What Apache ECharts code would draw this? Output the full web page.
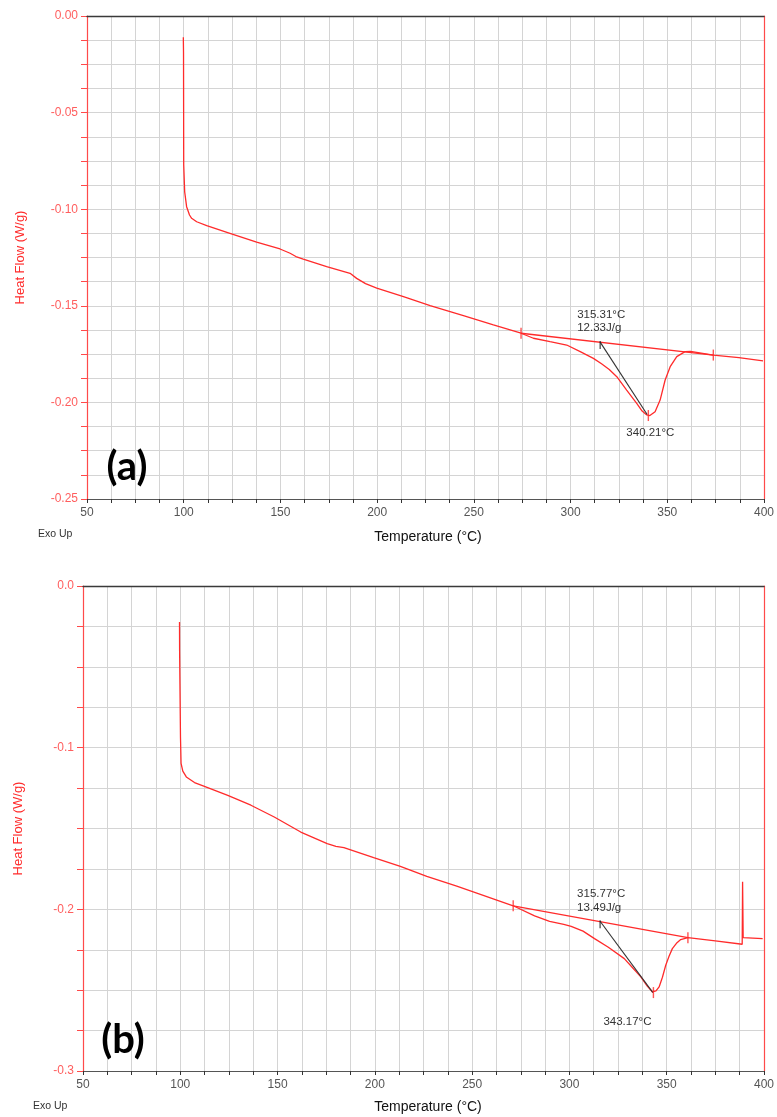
<!DOCTYPE html>
<html><head><meta charset="utf-8">
<script src="https://cdn.jsdelivr.net/npm/echarts@6/dist/echarts.min.js"></script>
<style>html,body{margin:0;padding:0;background:#fff}#c{width:777px;height:1117px}</style>
</head><body><div id="c"></div>
<script>
// ---------- Panel (a) ----------
const aTemp = [99.8, 99.9, 100.0, 100.4, 100.5, 101.5, 103.0, 104.1, 106.7, 111.9, 123.9, 137.7, 149.8, 155.0, 158.0, 161.8, 173.9, 186.0, 189.4, 194.0, 199.8, 213.6, 227.4, 244.6, 260.1, 274.4, 280.8, 289.4, 298.0, 305.0, 311.8, 316.0, 320.0, 323.9, 329.0, 334.2, 337.0, 339.4, 341.0, 343.7, 346.3, 348.9, 351.5, 354.9, 359.2, 362.0, 373.8, 387.0, 399.5];
const aFlow = [-0.011, -0.019, -0.077, -0.078, -0.091, -0.0987, -0.103, -0.1047, -0.1065, -0.1085, -0.1125, -0.1171, -0.1206, -0.1228, -0.1245, -0.1258, -0.1297, -0.1332, -0.1358, -0.1385, -0.1409, -0.1453, -0.1499, -0.1551, -0.1599, -0.1642, -0.1668, -0.1686, -0.1703, -0.1737, -0.1772, -0.1800, -0.1830, -0.1867, -0.1936, -0.2005, -0.2045, -0.2065, -0.2068, -0.2048, -0.1988, -0.1884, -0.1815, -0.1763, -0.1737, -0.1736, -0.1755, -0.1768, -0.1785];
const aBaseT = [274.4, 373.8];
const aBaseF = [-0.1642, -0.1755];
const aTanT = [315.31, 339.6];
const aTanF = [-0.1688, -0.2063];
const aLimT = [274.4, 373.8, 340.21];
const aLimF = [-0.1642, -0.1755, -0.2068];
const aOnset = [315.31, -0.1688];
const aPeak = [340.21, -0.2068];
const aText = ['315.31°C', '12.33J/g', '340.21°C'];

// ---------- Panel (b) ----------
const bTemp = [99.6, 99.65, 100.1, 100.4, 101.3, 103.1, 107.3, 112.4, 124.4, 136.3, 148.3, 161.9, 175.5, 180.0, 184.1, 199.4, 213.1, 226.7, 242.1, 255.7, 271.1, 282.1, 289.8, 297.1, 300.9, 307.0, 312.9, 320.0, 328.2, 332.0, 336.7, 340.0, 342.7, 344.5, 346.1, 347.8, 349.5, 351.2, 352.9, 355.0, 357.2, 360.9, 375.0, 388.8, 389.0, 389.3, 399.3];
const bFlow = [-0.0223, -0.0398, -0.0934, -0.1097, -0.1145, -0.1181, -0.1216, -0.1239, -0.1295, -0.1356, -0.1429, -0.1522, -0.1594, -0.1610, -0.1618, -0.1680, -0.1734, -0.1796, -0.1857, -0.1913, -0.1978, -0.2040, -0.2075, -0.2093, -0.2105, -0.2135, -0.2181, -0.2235, -0.2305, -0.2355, -0.2418, -0.2475, -0.2511, -0.2505, -0.2480, -0.2420, -0.2346, -0.2290, -0.2243, -0.2210, -0.2187, -0.2175, -0.2195, -0.2216, -0.1830, -0.2175, -0.2181];
const bBaseT = [271.1, 360.9];
const bBaseF = [-0.1978, -0.2175];
const bTanT = [315.77, 342.9];
const bTanF = [-0.2074, -0.2515];
const bLimT = [271.1, 360.9, 343.17];
const bLimF = [-0.1978, -0.2175, -0.2515];
const bOnset = [315.77, -0.2074];
const bPeak = [343.17, -0.2515];
const bText = ['315.77°C', '13.49J/g', '343.17°C'];

// ---------- Axes ----------
const xMin = 50, xMax = 400, xStep = 12.5, xLabelStep = 50;
const aYMin = -0.25, aYStep = 0.0125, aYLabelStep = 0.05, aYDigits = 2;
const bYMin = -0.3, bYStep = 0.025, bYLabelStep = 0.1, bYDigits = 1;

const zip = (xs, ys) => xs.map((x, i) => [x, ys[i]]);
const RED = '#ff2b2b';
const FONT = 'Liberation Sans';
const isMult = (v, s) => Math.abs(Math.round(v / s) * s - v) < 1e-9;

function xAxisMain(gi) {
  return {
    type: 'value', gridIndex: gi, min: xMin, max: xMax, interval: xStep, position: 'bottom',
    axisLine: { show: true, onZero: false, lineStyle: { color: '#555', width: 1.2 } },
    axisTick: { show: true, length: 4, lineStyle: { color: '#333' } },
    axisLabel: { color: '#555', fontSize: 12, fontFamily: FONT, margin: 8,
      formatter: v => isMult(v, xLabelStep) ? String(Math.round(v)) : '' },
    splitLine: { show: true, lineStyle: { color: '#d4d4d4', width: 1 } }
  };
}
function xAxisTop(gi) {
  return { type: 'value', gridIndex: gi, min: xMin, max: xMax, position: 'top', z: 10,
    axisLine: { show: true, onZero: false, lineStyle: { color: '#3a3a3a', width: 1.3 } },
    axisTick: { show: false }, axisLabel: { show: false }, splitLine: { show: false } };
}
function yAxisMain(gi, min, step, lstep, dig, gap) {
  return {
    type: 'value', gridIndex: gi, min: min, max: 0, interval: step, position: 'left',
    name: 'Heat Flow (W/g)', nameLocation: 'middle', nameGap: gap,
    nameTextStyle: { color: RED, fontSize: 13, fontFamily: FONT },
    axisLine: { show: true, onZero: false, lineStyle: { color: '#ff4a4a', width: 1.2 } },
    axisTick: { show: true, length: 6, lineStyle: { color: '#ff4a4a' } },
    axisLabel: { color: '#ff5e5e', fontSize: 12, fontFamily: FONT, margin: 9,
      formatter: v => isMult(v, lstep) ? (Math.abs(v) < 1e-9 ? (0).toFixed(dig) : v.toFixed(dig)) : '' },
    splitLine: { show: true, lineStyle: { color: '#d4d4d4', width: 1 } }
  };
}
function yAxisRight(gi, min) {
  return { type: 'value', gridIndex: gi, min: min, max: 0, position: 'right',
    axisLine: { show: true, onZero: false, lineStyle: { color: '#ff4a4a', width: 1.2 } },
    axisTick: { show: false }, axisLabel: { show: false }, splitLine: { show: false } };
}
function panelSeries(xi, yi, T, F, baseT, baseF, tanT, tanF, limT, limF, onset) {
  return [
    { type: 'line', xAxisIndex: xi, yAxisIndex: yi, data: zip(T, F), showSymbol: false,
      lineStyle: { color: RED, width: 1.3 }, z: 3 },
    { type: 'line', xAxisIndex: xi, yAxisIndex: yi, data: zip(baseT, baseF), showSymbol: false,
      lineStyle: { color: RED, width: 1.3 }, z: 3 },
    { type: 'line', xAxisIndex: xi, yAxisIndex: yi, data: zip(tanT, tanF), showSymbol: false,
      lineStyle: { color: '#333', width: 1.1 }, z: 4 },
    { type: 'scatter', xAxisIndex: xi, yAxisIndex: yi, data: zip(limT, limF), symbol: 'rect',
      symbolSize: [1.4, 11], itemStyle: { color: RED }, z: 5 },
    { type: 'scatter', xAxisIndex: xi, yAxisIndex: yi, data: [onset], symbol: 'rect',
      symbolSize: [1.3, 8], symbolOffset: [0, 3], itemStyle: { color: '#222' }, z: 5 }
  ];
}

const option = {
  animation: false,
  backgroundColor: '#fff',
  grid: [
    { left: 87, top: 16, width: 677, height: 483 },
    { left: 83, top: 586, width: 684, height: 485 }
  ],
  xAxis: [xAxisMain(0), xAxisTop(0), xAxisMain(1), xAxisTop(1)],
  yAxis: [yAxisMain(0, aYMin, aYStep, aYLabelStep, aYDigits, 60), yAxisRight(0, aYMin),
          yAxisMain(1, bYMin, bYStep, bYLabelStep, bYDigits, 58), yAxisRight(1, bYMin)],
  series: [].concat(
    panelSeries(0, 0, aTemp, aFlow, aBaseT, aBaseF, aTanT, aTanF, aLimT, aLimF, aOnset),
    panelSeries(2, 2, bTemp, bFlow, bBaseT, bBaseF, bTanT, bTanF, bLimT, bLimF, bOnset)
  )
};

const chart = echarts.init(document.getElementById('c'));
chart.setOption(option);

function txt(x, y, text, size, color, weight, align, family) {
  return { type: 'text', x: x, y: y, z: 20,
    style: { text: text, fill: color, fontSize: size, fontFamily: family || FONT,
      fontWeight: weight || 'normal', align: align || 'left', verticalAlign: 'middle',
      textAlign: align || 'left', textVerticalAlign: 'middle' } };
}
const pa = chart.convertToPixel({ xAxisIndex: 0, yAxisIndex: 0 }, aOnset);
const pap = chart.convertToPixel({ xAxisIndex: 0, yAxisIndex: 0 }, aPeak);
const pb = chart.convertToPixel({ xAxisIndex: 2, yAxisIndex: 2 }, bOnset);
const pbp = chart.convertToPixel({ xAxisIndex: 2, yAxisIndex: 2 }, bPeak);

const LABEL_FONT = 'Lato';
chart.setOption({ graphic: [
  txt(pa[0] - 23, pa[1] - 27, aText[0], 11.5, '#333'),
  txt(pa[0] - 23, pa[1] - 14, aText[1], 11.5, '#333'),
  txt(pap[0] - 22, pap[1] + 17, aText[2], 11.5, '#333'),
  txt(pb[0] - 23, pb[1] - 27, bText[0], 11.5, '#333'),
  txt(pb[0] - 23, pb[1] - 13, bText[1], 11.5, '#333'),
  txt(pbp[0] - 50, pbp[1] + 29, bText[2], 11.5, '#333'),
  txt(428, 537, 'Temperature (°C)', 14, '#111', 'normal', 'center'),
  txt(428, 1107, 'Temperature (°C)', 14, '#111', 'normal', 'center'),
  txt(38, 534, 'Exo Up', 10.5, '#333'),
  txt(33, 1106, 'Exo Up', 10.5, '#333'),
  txt(127, 467, '(a)', 40, '#000', 'bold', 'center', LABEL_FONT),
  txt(123, 1040, '(b)', 40, '#000', 'bold', 'center', LABEL_FONT)
] });
</script>
</body></html>
